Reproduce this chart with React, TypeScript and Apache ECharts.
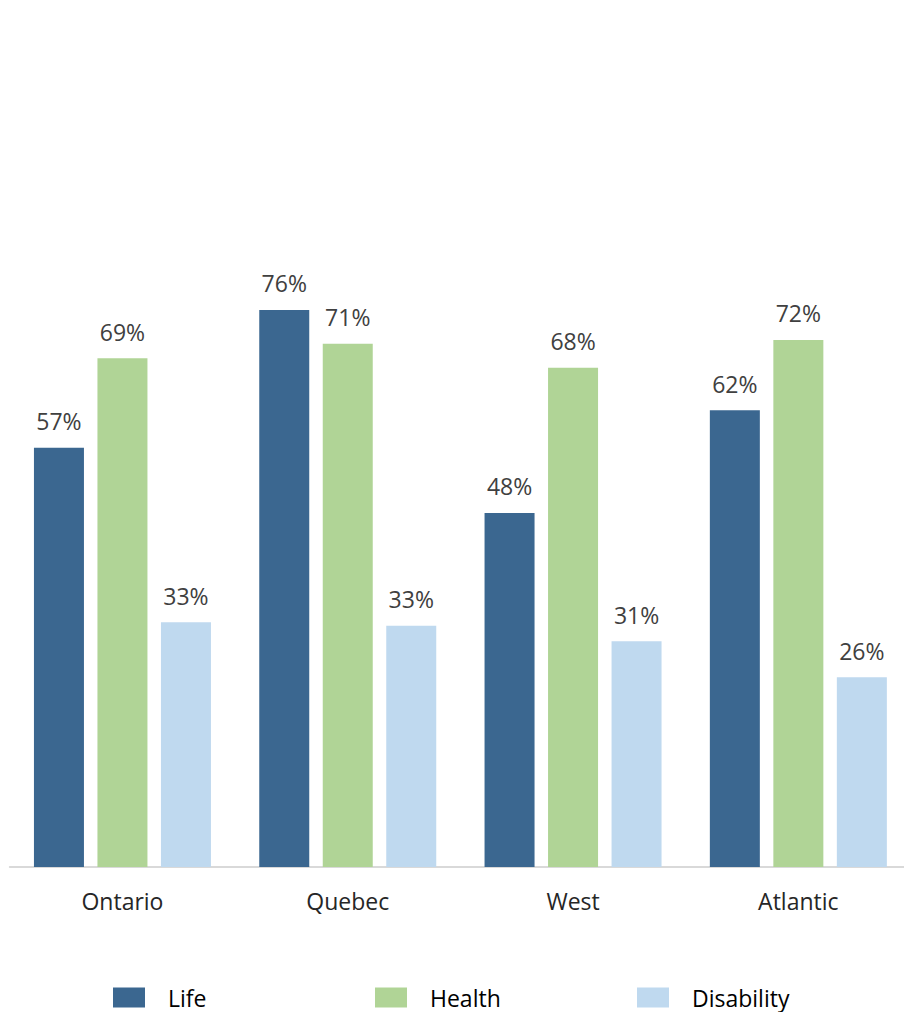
import React, { useEffect, useRef } from "react";
import * as echarts from "echarts";

const categories = ["Ontario", "Quebec", "West", "Atlantic"];
const lifeValues = [57.2, 76.0, 48.3, 62.3];
const healthValues = [69.4, 71.4, 68.1, 71.9];
const disabilityValues = [33.4, 32.9, 30.8, 25.9];
const seriesNames = ["Life", "Health", "Disability"];
const seriesColors = ["#3b6790", "#b0d496", "#bfd9ef"];

const FONT = "'Open Sans', sans-serif";

export default function App() {
  const ref = useRef<HTMLDivElement>(null);
  useEffect(() => {
    if (!ref.current) return;
    const chart = echarts.init(ref.current, undefined, { renderer: "svg" });
    const data = [lifeValues, healthValues, disabilityValues];
    const legendLefts = [113, 375, 637];
    chart.setOption({
      animation: false,
      backgroundColor: "#ffffff",
      grid: { left: 9.8, right: 0, top: 134, bottom: 145 },
      legend: seriesNames.map((n, i) => ({
        data: [n],
        left: legendLefts[i],
        top: 986,
        itemWidth: 32,
        itemHeight: 20,
        icon: "rect",
        padding: 0,
        textStyle: {
          fontFamily: FONT,
          fontSize: 23,
          color: "#000000",
          padding: [0, 0, 0, 18],
        },
      })),
      xAxis: {
        type: "category",
        data: categories,
        axisLine: { lineStyle: { color: "#d9d9d9", width: 2 } },
        axisTick: { show: false },
        axisLabel: {
          fontFamily: FONT,
          fontSize: 23,
          color: "#262626",
          margin: 22,
        },
      },
      yAxis: {
        type: "value",
        min: 0,
        max: 100,
        show: false,
        splitLine: { show: false },
      },
      series: seriesNames.map((n, i) => ({
        name: n,
        type: "bar",
        data: data[i],
        barWidth: 50,
        barGap: "27%",
        itemStyle: { color: seriesColors[i] },
        label: {
          show: true,
          position: "top",
          distance: 15,
          fontFamily: FONT,
          fontSize: 23,
          color: "#404040",
          formatter: (p: any) => Math.round(p.value) + "%",
        },
      })),
    });
    return () => chart.dispose();
  }, []);
  return (
    <div
      style={{
        position: "absolute",
        left: 0,
        top: 0,
        width: 904,
        height: 1012,
        overflow: "hidden",
      }}
    >
      <div ref={ref} style={{ width: 911, height: 1012 }} />
    </div>
  );
}
